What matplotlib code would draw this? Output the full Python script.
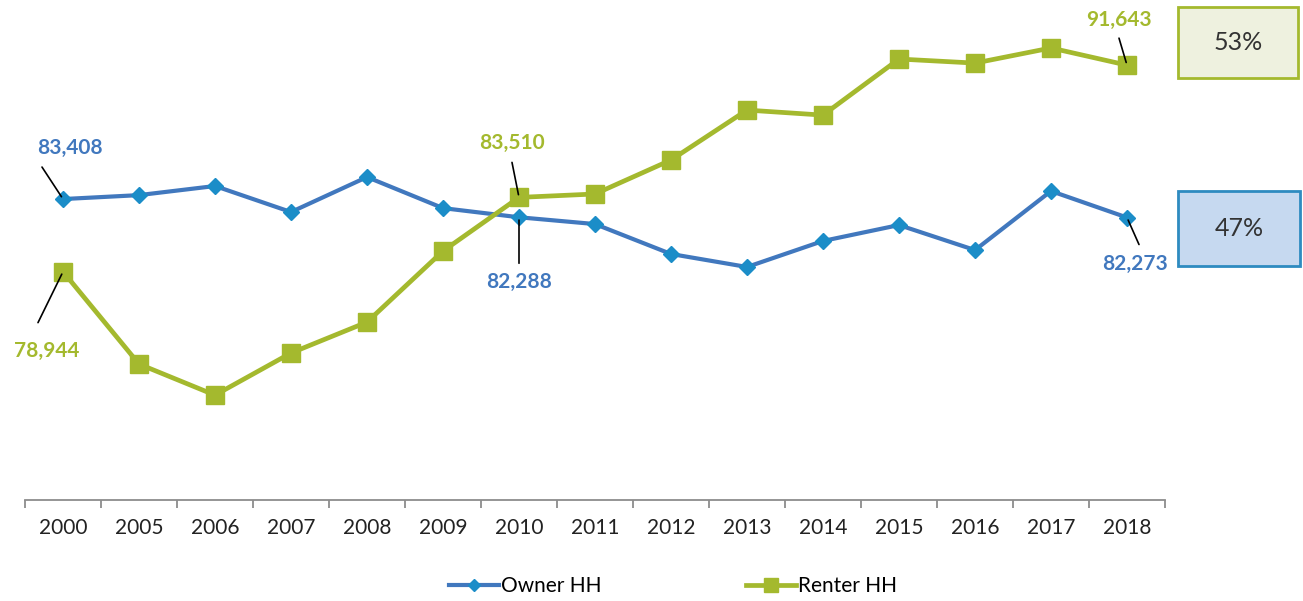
import matplotlib
matplotlib.use("Agg")
import matplotlib.pyplot as plt
from matplotlib.patches import Rectangle

plt.rcParams["font.family"] = ["Lato", "DejaVu Sans"]

years = ["2000", "2005", "2006", "2007", "2008", "2009", "2010", "2011",
         "2012", "2013", "2014", "2015", "2016", "2017", "2018"]
owner_hh = [83408, 83650, 84210, 82610, 84760, 82850, 82288, 81870,
            80030, 79230, 80830, 81810, 80270, 83900, 82273]
renter_hh = [78944, 73260, 71350, 73940, 75840, 80210, 83510, 83720,
             85810, 88880, 88570, 92020, 91770, 92700, 91643]
share_labels = ["53%", "47%"]

OWNER_LINE = "#4178be"
OWNER_MARK = "#1b8dc8"
RENTER = "#a4b92e"

W, H = 1303, 601
fig = plt.figure(figsize=(W / 100, H / 100), dpi=100)
ax = fig.add_axes([25 / W, 101 / H, 1140 / W, 480 / H])

x = range(len(years))
ax.plot(x, owner_hh, color=OWNER_LINE, lw=3.0, marker="D", ms=8.5,
        mfc=OWNER_MARK, mec=OWNER_MARK, label="Owner HH", zorder=3)
ax.plot(x, renter_hh, color=RENTER, lw=3.4, marker="s", ms=12.5,
        mfc=RENTER, mec=RENTER, label="Renter HH", zorder=3)

ax.set_xlim(-0.5, len(years) - 0.5)
ax.set_ylim(64900, 94420)
ax.set_yticks([])
for s in ("top", "right", "left"):
    ax.spines[s].set_visible(False)
ax.spines["bottom"].set_color("#8c8c8c")
ax.spines["bottom"].set_linewidth(1.3)
ax.set_xticks(list(x))
ax.set_xticklabels(years, fontsize=15, color="#222222")
ax.tick_params(axis="x", which="major", length=0, pad=13)
ax.set_xticks([i - 0.5 for i in range(len(years) + 1)], minor=True)
ax.tick_params(axis="x", which="minor", length=6, width=1.3, color="#8c8c8c")

# callouts: (index, series, colour, line offset, label offset) in pixels
callouts = [
    (0, owner_hh, OWNER_LINE, (-21, 32), (7, 51)),
    (0, renter_hh, RENTER, (-25, -51), (-16, -79)),
    (6, renter_hh, RENTER, (-7, 35), (-7, 54)),
    (6, owner_hh, OWNER_LINE, (0, -46), (0, -65)),
    (14, renter_hh, RENTER, (-8, 27), (-8, 45)),
    (14, owner_hh, OWNER_LINE, (12, -27), (8, -46)),
]
for i, series, col, line_off, lab_off in callouts:
    v = series[i]
    ax.annotate("", xy=(i, v), xytext=line_off, textcoords="offset pixels",
                arrowprops=dict(arrowstyle="-", color="black", lw=1.2,
                                shrinkA=0, shrinkB=2), zorder=4)
    ax.annotate(f"{v:,}", xy=(i, v), xytext=lab_off, textcoords="offset pixels",
                ha="center", va="center", fontsize=15, fontweight="bold",
                color=col, zorder=5)

# share boxes on the right
boxes = [
    (1178, 7, 120, 71, "#eef1df", RENTER, share_labels[0]),
    (1178, 191, 122, 75, "#c6d9f0", "#2e8bc0", share_labels[1]),
]
for bx, by, bw, bh, fc, ec, txt in boxes:
    fig.patches.append(Rectangle((bx / W, 1 - (by + bh) / H), bw / W, bh / H,
                                 transform=fig.transFigure, fc=fc, ec=ec,
                                 lw=2, zorder=1))
    fig.text((bx + bw / 2) / W, 1 - (by + bh / 2) / H, txt, ha="center",
             va="center", fontsize=18, color="#333333")

fig.legend(loc="center", bbox_to_anchor=(673 / W, 1 - 586 / H), ncol=2,
           frameon=False, fontsize=15, handlelength=2.4, handletextpad=0.1,
           columnspacing=6.9, markerscale=0.75)

fig.savefig("out.png", dpi=100)
